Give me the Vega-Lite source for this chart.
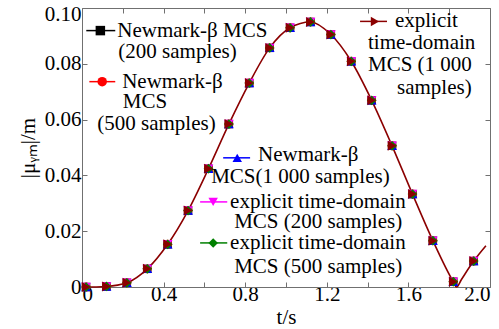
{
  "$schema": "https://vega.github.io/schema/vega-lite/v6.json",
  "width": 408,
  "height": 279,
  "autosize": "none",
  "padding": {"left": 82, "top": 8, "right": 9, "bottom": 42},
  "background": "white",
  "config": {
    "view": {"stroke": null},
    "axis": {
      "labelFont": "Liberation Serif",
      "titleFont": "Liberation Serif",
      "labelFontSize": 21,
      "titleFontSize": 21,
      "labelColor": "black",
      "titleColor": "black",
      "titleFontWeight": "normal",
      "domainColor": "#707070",
      "tickColor": "#707070",
      "grid": false,
      "tickSize": -5
    }
  },
  "datasets": {
    "curve": [
      {"t": 0, "u": 0},
      {"t": 0.02, "u": 0},
      {"t": 0.12, "u": 0.0002},
      {"t": 0.22, "u": 0.0015},
      {"t": 0.32, "u": 0.0065},
      {"t": 0.42, "u": 0.0153},
      {"t": 0.52, "u": 0.0274},
      {"t": 0.62, "u": 0.0424},
      {"t": 0.72, "u": 0.0584},
      {"t": 0.82, "u": 0.0731},
      {"t": 0.92, "u": 0.0857},
      {"t": 1.02, "u": 0.0929},
      {"t": 1.12, "u": 0.095},
      {"t": 1.22, "u": 0.0905},
      {"t": 1.32, "u": 0.0809},
      {"t": 1.42, "u": 0.0669},
      {"t": 1.52, "u": 0.0506},
      {"t": 1.62, "u": 0.0333},
      {"t": 1.72, "u": 0.0166},
      {"t": 1.82, "u": 0.0019},
      {"t": 1.836, "u": 0},
      {"t": 1.86, "u": 0.0027},
      {"t": 1.92, "u": 0.0093},
      {"t": 1.98, "u": 0.0148}
    ],
    "samples": [
      {"t": 0.02, "u": 0},
      {"t": 0.12, "u": 0.0002},
      {"t": 0.22, "u": 0.0015},
      {"t": 0.32, "u": 0.0065},
      {"t": 0.42, "u": 0.0153},
      {"t": 0.52, "u": 0.0274},
      {"t": 0.62, "u": 0.0424},
      {"t": 0.72, "u": 0.0584},
      {"t": 0.82, "u": 0.0731},
      {"t": 0.92, "u": 0.0857},
      {"t": 1.02, "u": 0.0929},
      {"t": 1.12, "u": 0.095},
      {"t": 1.22, "u": 0.0905},
      {"t": 1.32, "u": 0.0809},
      {"t": 1.42, "u": 0.0669},
      {"t": 1.52, "u": 0.0506},
      {"t": 1.62, "u": 0.0333},
      {"t": 1.72, "u": 0.0166},
      {"t": 1.82, "u": 0.0019},
      {"t": 1.92, "u": 0.0093}
    ],
    "legendGlyphs": [
      {"series": "nb200", "x1": 0.021, "x2": 0.163, "xm": 0.09, "y": 0.0919},
      {"series": "nb500", "x1": 0.036, "x2": 0.163, "xm": 0.099, "y": 0.0736},
      {"series": "nb1000", "x1": 0.692, "x2": 0.824, "xm": 0.761, "y": 0.0463},
      {"series": "ex200", "x1": 0.579, "x2": 0.712, "xm": 0.643, "y": 0.0305},
      {"series": "ex500", "x1": 0.579, "x2": 0.712, "xm": 0.643, "y": 0.0158},
      {"series": "ex1000", "x1": 1.363, "x2": 1.495, "xm": 1.436, "y": 0.0952}
    ],
    "legendText": [
      {"text": "Newmark-β MCS", "x": 0.173, "y": 0.0919},
      {"text": "(200 samples)", "x": 0.178, "y": 0.0844},
      {"text": "Newmark-β", "x": 0.197, "y": 0.0736},
      {"text": "MCS", "x": 0.2, "y": 0.0664},
      {"text": "(500 samples)", "x": 0.075, "y": 0.0585},
      {"text": "explicit", "x": 1.534, "y": 0.0952},
      {"text": "time-domain", "x": 1.402, "y": 0.0876},
      {"text": "MCS (1 000", "x": 1.402, "y": 0.0797},
      {"text": "samples)", "x": 1.544, "y": 0.0715},
      {"text": "Newmark-β", "x": 0.863, "y": 0.0474},
      {"text": "MCS(1 000 samples)", "x": 0.633, "y": 0.0395},
      {"text": "explicit time-domain", "x": 0.726, "y": 0.0305},
      {"text": "MCS (200 samples)", "x": 0.746, "y": 0.0233},
      {"text": "explicit time-domain", "x": 0.726, "y": 0.0158},
      {"text": "MCS (500 samples)", "x": 0.746, "y": 0.0072}
    ]
  },
  "resolve": {"axis": {"x": "independent", "y": "independent"}},
  "layer": [
    {
      "data": {"name": "curve"},
      "mark": {"type": "point", "opacity": 0},
      "encoding": {
        "x": {"field": "t", "type": "quantitative", "scale": {"domain": [0, 2], "nice": false},
          "axis": {"orient": "top", "labels": false, "title": null, "values": [0, 0.2, 0.4, 0.6, 0.8, 1, 1.2, 1.4, 1.6, 1.8, 2]}},
        "y": {"field": "u", "type": "quantitative", "scale": {"domain": [0, 0.1], "nice": false},
          "axis": {"orient": "right", "labels": false, "title": null, "values": [0, 0.02, 0.04, 0.06, 0.08, 0.1]}}
      }
    },
    {
      "data": {"name": "curve"},
      "mark": {"type": "line", "color": "#8b0000", "strokeWidth": 1.6, "interpolate": "monotone"},
      "encoding": {
        "x": {"field": "t", "type": "quantitative", "scale": {"domain": [0, 2], "nice": false},
          "axis": {"orient": "bottom", "title": "t/s", "titlePadding": 2, "labelPadding": 1,
            "values": [0, 0.2, 0.4, 0.6, 0.8, 1, 1.2, 1.4, 1.6, 1.8, 2],
            "labelExpr": "datum.value == 0 ? '0' : (abs(datum.value*10 - 4*round(datum.value*10/4)) < 0.01 ? format(datum.value, '.1f') : '')"}},
        "y": {"field": "u", "type": "quantitative", "scale": {"domain": [0, 0.1], "nice": false},
          "axis": {"orient": "left", "title": "|μᵧₘ|/m", "titlePadding": 6, "labelPadding": 6,
            "values": [0, 0.02, 0.04, 0.06, 0.08, 0.1],
            "labelOffset": {"condition": {"test": "datum.value >= 0.099", "value": 6}, "value": 0},
            "labelExpr": "datum.value == 0 ? '0' : format(datum.value, '.2f')"}}
      }
    },
    {
      "data": {"name": "samples"},
      "mark": {"type": "point", "shape": "square", "filled": true, "color": "black", "size": 70, "opacity": 1},
      "encoding": {"x": {"field": "t", "type": "quantitative", "axis": null}, "y": {"field": "u", "type": "quantitative", "axis": null}}
    },
    {
      "data": {"name": "samples"},
      "mark": {"type": "point", "shape": "circle", "filled": true, "color": "#ff0000", "size": 80, "opacity": 1},
      "encoding": {"x": {"field": "t", "type": "quantitative", "axis": null}, "y": {"field": "u", "type": "quantitative", "axis": null}}
    },
    {
      "data": {"name": "samples"},
      "mark": {"type": "point", "shape": "triangle-up", "filled": true, "color": "#0000ff", "size": 95, "opacity": 1},
      "encoding": {"x": {"field": "t", "type": "quantitative", "axis": null}, "y": {"field": "u", "type": "quantitative", "axis": null}}
    },
    {
      "data": {"name": "samples"},
      "mark": {"type": "point", "shape": "triangle-down", "filled": true, "color": "#ff00ff", "size": 95, "opacity": 1},
      "encoding": {"x": {"field": "t", "type": "quantitative", "axis": null}, "y": {"field": "u", "type": "quantitative", "axis": null}}
    },
    {
      "data": {"name": "samples"},
      "mark": {"type": "point", "shape": "diamond", "filled": true, "color": "#008000", "size": 95, "opacity": 1},
      "encoding": {"x": {"field": "t", "type": "quantitative", "axis": null}, "y": {"field": "u", "type": "quantitative", "axis": null}}
    },
    {
      "data": {"name": "samples"},
      "mark": {"type": "point", "shape": "triangle-right", "filled": true, "color": "#8b0000", "size": 100, "opacity": 1},
      "encoding": {"x": {"field": "t", "type": "quantitative", "axis": null}, "y": {"field": "u", "type": "quantitative", "axis": null}}
    },
    {
      "data": {"name": "legendGlyphs"},
      "mark": {"type": "rule", "strokeWidth": 1.5},
      "encoding": {
        "x": {"field": "x1", "type": "quantitative", "axis": null},
        "x2": {"field": "x2"},
        "y": {"field": "y", "type": "quantitative", "axis": null},
        "color": {"field": "series", "type": "nominal", "legend": null,
          "scale": {"domain": ["nb200", "nb500", "nb1000", "ex200", "ex500", "ex1000"], "range": ["#000000", "#ff0000", "#0000ff", "#ff00ff", "#008000", "#8b0000"]}}
      }
    },
    {
      "data": {"name": "legendGlyphs"},
      "mark": {"type": "point", "filled": true, "size": 90, "opacity": 1},
      "encoding": {
        "x": {"field": "xm", "type": "quantitative", "axis": null},
        "y": {"field": "y", "type": "quantitative", "axis": null},
        "color": {"field": "series", "type": "nominal", "legend": null},
        "shape": {"field": "series", "type": "nominal", "legend": null,
          "scale": {"domain": ["nb200", "nb500", "nb1000", "ex200", "ex500", "ex1000"], "range": ["square", "circle", "triangle-up", "triangle-down", "diamond", "triangle-right"]}}
      }
    },
    {
      "data": {"name": "legendText"},
      "mark": {"type": "text", "align": "left", "baseline": "middle", "font": "Liberation Serif", "fontSize": 21, "color": "black"},
      "encoding": {
        "x": {"field": "x", "type": "quantitative", "axis": null},
        "y": {"field": "y", "type": "quantitative", "axis": null},
        "text": {"field": "text"}
      }
    }
  ]
}
